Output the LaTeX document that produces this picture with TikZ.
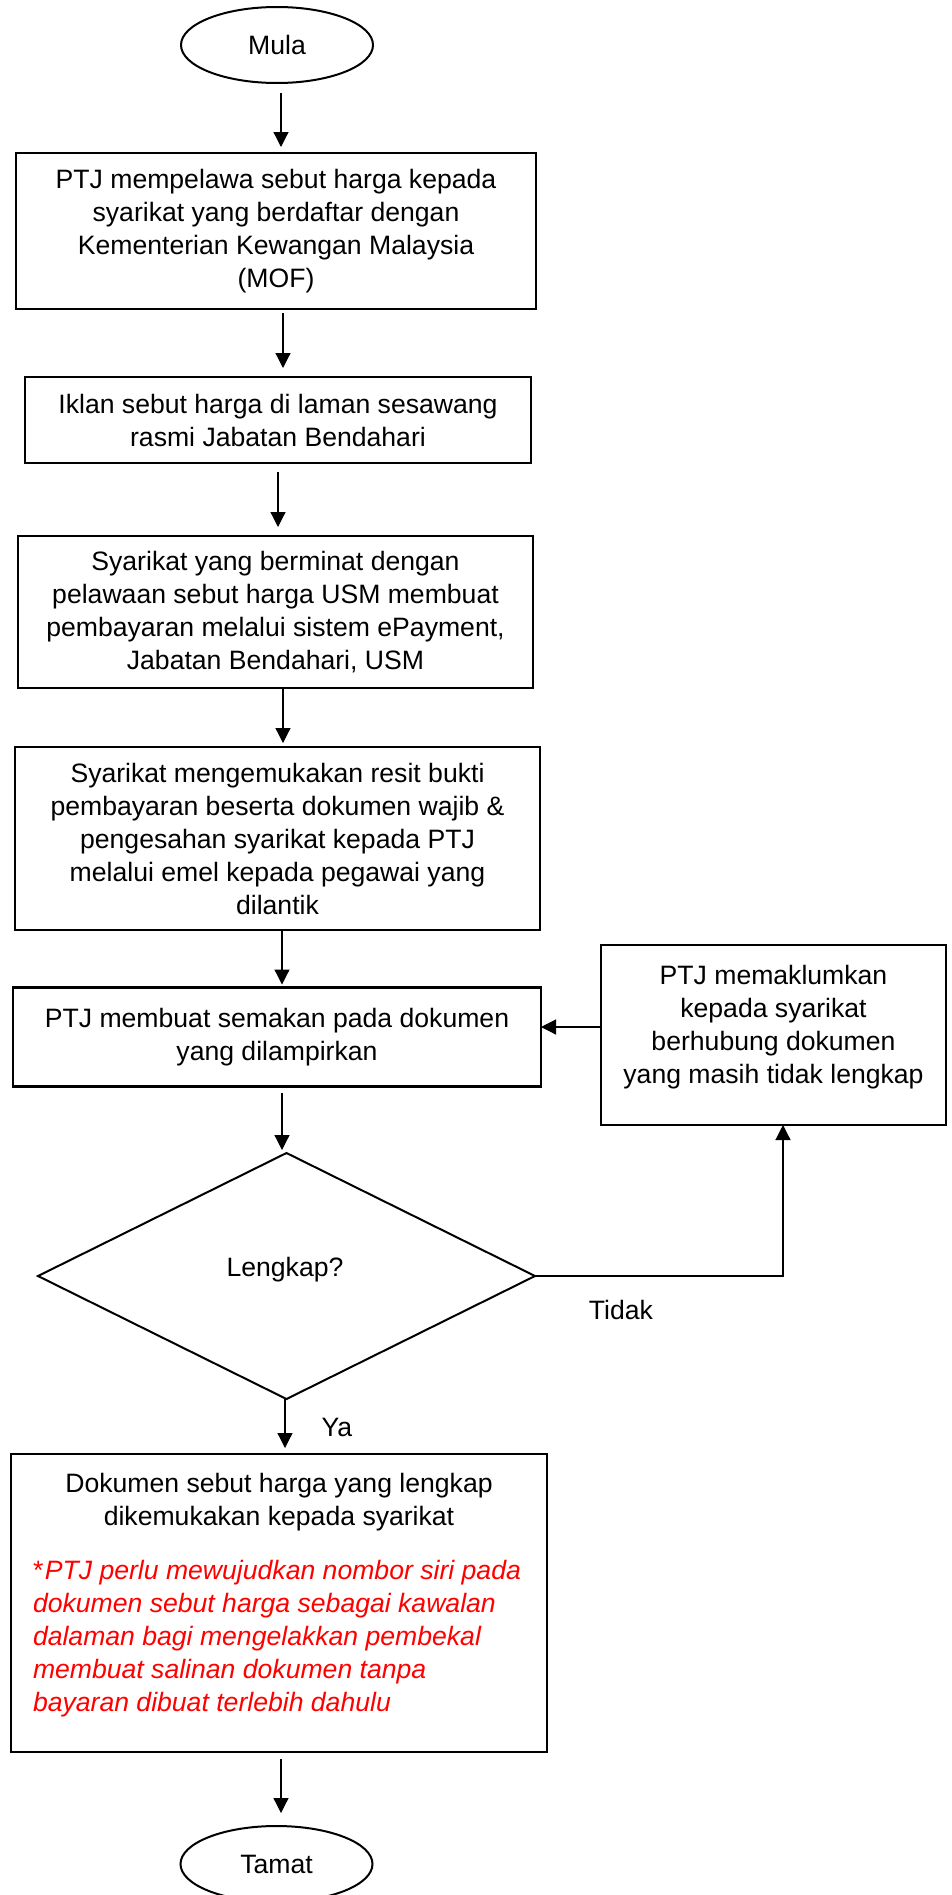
\documentclass[tikz,border=0pt]{standalone}
\usepackage{fontspec}
\setmainfont{Liberation Sans}
\usetikzlibrary{shapes.geometric,arrows.meta}
\begin{document}
\begin{tikzpicture}[x=1pt,y=-1pt,
  every node/.style={font=\fontsize{26.6pt}{33pt}\selectfont, inner sep=0pt, outer sep=0pt},
  box/.style={draw, line width=2.2pt, rectangle},
  term/.style={draw, line width=2pt, ellipse, minimum width=192pt, minimum height=76pt},
  decision/.style={draw, line width=2pt, diamond, minimum width=497pt, minimum height=246pt},
  arr/.style={line width=1.2pt, -{Triangle[width=15pt,length=15pt]}},
  note/.style={text=red, font=\fontsize{26.6pt}{33pt}\selectfont\itshape, align=left}
]
\path[use as bounding box] (0,0) rectangle (951,1895);
\clip (0,0) rectangle (951,1895);

% nodes
\node[term] (mula) at (277,45) {Mula};
\node[box, minimum width=520pt, minimum height=156pt, align=center] (b1) at (276,231)
  {PTJ mempelawa sebut harga kepada\\syarikat yang berdaftar dengan\\Kementerian Kewangan Malaysia\\(MOF)};
\node[box, minimum width=506pt, minimum height=86pt, align=center] (b2) at (278,420)
  {Iklan sebut harga di laman sesawang\\rasmi Jabatan Bendahari};
\node[box, minimum width=515pt, minimum height=152pt, align=center] (b3) at (275.5,612)
  {Syarikat yang berminat dengan\\pelawaan sebut harga USM membuat\\pembayaran melalui sistem ePayment,\\Jabatan Bendahari, USM};
\node[box, minimum width=525pt, minimum height=183pt, align=center] (b4) at (277.5,838.5)
  {Syarikat mengemukakan resit bukti\\pembayaran beserta dokumen wajib \&\\pengesahan syarikat kepada PTJ\\melalui emel kepada pegawai yang\\dilantik};
\node[box, minimum width=528pt, minimum height=99pt, align=center] (b5) at (277,1037)
  {PTJ membuat semakan pada dokumen\\yang dilampirkan};
\node[box, minimum width=345pt, minimum height=180pt] (rb) at (773.5,1035) {};
\node[align=center] (rbt) at (773.5,1027)
  {PTJ memaklumkan\\kepada syarikat\\berhubung dokumen\\yang masih tidak lengkap};
\node[decision] (dia) at (286.5,1276) {};
\node[text depth=0pt] (diat) at (285,1267) {Lengkap?};
\node (tidak) at (621,1310) {Tidak};
\node (ya) at (337,1427) {Ya};
\node[box, minimum width=536pt, minimum height=298pt] (b6) at (279,1603) {};
\node[align=center] (b6t) at (279,1502)
  {Dokumen sebut harga yang lengkap\\dikemukakan kepada syarikat};
\node[note, anchor=west] (b6n) at (33,1639)
  {{\upshape *}\kern1.5pt PTJ perlu mewujudkan nombor siri pada\\dokumen sebut harga sebagai kawalan\\dalaman bagi mengelakkan pembekal\\membuat salinan dokumen tanpa\\bayaran dibuat terlebih dahulu};
\node[term] (tamat) at (276.5,1864) {Tamat};

% helper coordinates
\coordinate (x278) at (278,0);
\coordinate (x281) at (281,0);
\coordinate (x282) at (282,0);
\coordinate (x283) at (283,0);
\coordinate (x285) at (285,0);
\coordinate (y1027) at (0,1027);
\coordinate (tx) at (783,1276);

% connectors
\draw[arr, shorten <=10pt, shorten >=6pt] (mula.south -| x281) -- (b1.north -| x281);
\draw[arr, shorten <=4pt, shorten >=9pt] (b1.south -| x283) -- (b2.north -| x283);
\draw[arr, shorten <=9pt, shorten >=9pt] (b2.south -| x278) -- (b3.north -| x278);
\draw[arr, shorten <=1pt, shorten >=4pt] (b3.south -| x283) -- (b4.north -| x283);
\draw[arr, shorten >=3pt] (b4.south -| x282) -- (b5.north -| x282);
\draw[arr, shorten <=6pt, shorten >=3pt] (b5.south -| x282) -- (dia.north -| x282);
\draw[arr] (rb.west |- y1027) -- (b5.east |- y1027);
\draw[arr] (dia.east) -- (tx) -- (tx |- rb.south);
\draw[arr, shorten >=6pt] (dia.south -| x285) -- (b6.north -| x285);
\draw[arr, shorten <=7pt, shorten >=13pt] (b6.south -| x281) -- (tamat.north -| x281);
\end{tikzpicture}
\end{document}
